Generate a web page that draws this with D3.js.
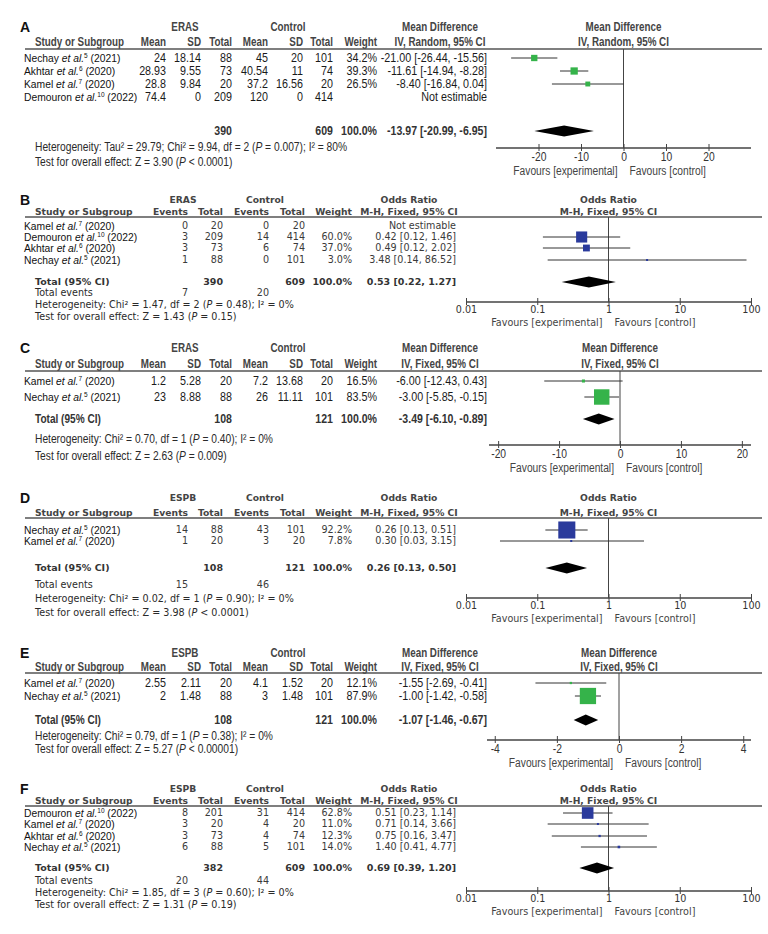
<!DOCTYPE html>
<html lang="en">
<head>
<meta charset="UTF-8">
<title>Forest plots A-F</title>
<style>
  body { margin: 0; background: #fff; }
  text { white-space: pre; }
</style>
</head>
<body>
<svg id="svg" width="768" height="934"></svg>
<script src="https://d3js.org/d3.v7.min.js"></script>
<script>
// ---------- A : length of stay (mean difference, random) ----------
const aAuthor = ['Nechay', 'Akhtar', 'Kamel', 'Demouron']
const aRef = ['5', '6', '7', '10']
const aYear = ['2021', '2020', '2020', '2022']
const aExpMean = [24, 28.93, 28.8, 74.4]
const aExpSD = [18.14, 9.55, 9.84, 0]
const aExpN = [88, 73, 20, 209]
const aCtlMean = [45, 40.54, 37.2, 120]
const aCtlSD = [20, 11, 16.56, 0]
const aCtlN = [101, 74, 20, 414]
const aWeight = [34.2, 39.3, 26.5, null]
const aEst = [-21.00, -11.61, -8.40, null]
const aLo = [-26.44, -14.94, -16.84, null]
const aHi = [-15.56, -8.28, 0.04, null]
const aTotal = { exp: 390, ctl: 609, est: -13.97, lo: -20.99, hi: -6.95 }
const aHet = 'Heterogeneity: Tau² = 29.79; Chi² = 9.94, df = 2 (P = 0.007); I² = 80%'
const aTest = 'Test for overall effect: Z = 3.90 (P < 0.0001)'
const aTicks = [-20, -10, 0, 10, 20]

// ---------- B : odds ratio ----------
const bAuthor = ['Kamel', 'Demouron', 'Akhtar', 'Nechay']
const bRef = ['7', '10', '6', '5']
const bYear = ['2020', '2022', '2020', '2021']
const bExpEv = [0, 3, 3, 1]
const bExpN = [20, 209, 73, 88]
const bCtlEv = [0, 14, 6, 0]
const bCtlN = [20, 414, 74, 101]
const bWeight = [null, 60.0, 37.0, 3.0]
const bEst = [null, 0.42, 0.49, 3.48]
const bLo = [null, 0.12, 0.12, 0.14]
const bHi = [null, 1.46, 2.02, 86.52]
const bTotal = { exp: 390, ctl: 609, est: 0.53, lo: 0.22, hi: 1.27, expEv: 7, ctlEv: 20 }
const bHet = 'Heterogeneity: Chi² = 1.47, df = 2 (P = 0.48); I² = 0%'
const bTest = 'Test for overall effect: Z = 1.43 (P = 0.15)'

// ---------- C : mean difference, fixed ----------
const cAuthor = ['Kamel', 'Nechay']
const cRef = ['7', '5']
const cYear = ['2020', '2021']
const cExpMean = [1.2, 23]
const cExpSD = [5.28, 8.88]
const cExpN = [20, 88]
const cCtlMean = [7.2, 26]
const cCtlSD = [13.68, 11.11]
const cCtlN = [20, 101]
const cWeight = [16.5, 83.5]
const cEst = [-6.00, -3.00]
const cLo = [-12.43, -5.85]
const cHi = [0.43, -0.15]
const cTotal = { exp: 108, ctl: 121, est: -3.49, lo: -6.10, hi: -0.89 }
const cHet = 'Heterogeneity: Chi² = 0.70, df = 1 (P = 0.40); I² = 0%'
const cTest = 'Test for overall effect: Z = 2.63 (P = 0.009)'
const cTicks = [-20, -10, 0, 10, 20]

// ---------- D : odds ratio ----------
const dAuthor = ['Nechay', 'Kamel']
const dRef = ['5', '7']
const dYear = ['2021', '2020']
const dExpEv = [14, 1]
const dExpN = [88, 20]
const dCtlEv = [43, 3]
const dCtlN = [101, 20]
const dWeight = [92.2, 7.8]
const dEst = [0.26, 0.30]
const dLo = [0.13, 0.03]
const dHi = [0.51, 3.15]
const dTotal = { exp: 108, ctl: 121, est: 0.26, lo: 0.13, hi: 0.50, expEv: 15, ctlEv: 46 }
const dHet = 'Heterogeneity: Chi² = 0.02, df = 1 (P = 0.90); I² = 0%'
const dTest = 'Test for overall effect: Z = 3.98 (P < 0.0001)'

// ---------- E : mean difference, fixed ----------
const eAuthor = ['Kamel', 'Nechay']
const eRef = ['7', '5']
const eYear = ['2020', '2021']
const eExpMean = [2.55, 2]
const eExpSD = [2.11, 1.48]
const eExpN = [20, 88]
const eCtlMean = [4.1, 3]
const eCtlSD = [1.52, 1.48]
const eCtlN = [20, 101]
const eWeight = [12.1, 87.9]
const eEst = [-1.55, -1.00]
const eLo = [-2.69, -1.42]
const eHi = [-0.41, -0.58]
const eTotal = { exp: 108, ctl: 121, est: -1.07, lo: -1.46, hi: -0.67 }
const eHet = 'Heterogeneity: Chi² = 0.79, df = 1 (P = 0.38); I² = 0%'
const eTest = 'Test for overall effect: Z = 5.27 (P < 0.00001)'
const eTicks = [-4, -2, 0, 2, 4]

// ---------- F : odds ratio ----------
const fAuthor = ['Demouron', 'Kamel', 'Akhtar', 'Nechay']
const fRef = ['10', '7', '6', '5']
const fYear = ['2022', '2020', '2020', '2021']
const fExpEv = [8, 3, 3, 6]
const fExpN = [201, 20, 73, 88]
const fCtlEv = [31, 4, 4, 5]
const fCtlN = [414, 20, 74, 101]
const fWeight = [62.8, 11.0, 12.3, 14.0]
const fEst = [0.51, 0.71, 0.75, 1.40]
const fLo = [0.23, 0.14, 0.16, 0.41]
const fHi = [1.14, 3.66, 3.47, 4.77]
const fTotal = { exp: 382, ctl: 609, est: 0.69, lo: 0.39, hi: 1.20, expEv: 20, ctlEv: 44 }
const fHet = 'Heterogeneity: Chi² = 1.85, df = 3 (P = 0.60); I² = 0%'
const fTest = 'Test for overall effect: Z = 1.31 (P = 0.19)'

const orTicks = [0.01, 0.1, 1, 10, 100]

// panel setup (layout lives here, not in the data arrays)
const panels = [
  { letter: 'A', kind: 'md', group: 'ERAS', method: 'IV, Random, 95% CI', totalLabel: '',
    authors: aAuthor, refs: aRef, years: aYear,
    cols: [aExpMean, aExpSD, aExpN, aCtlMean, aCtlSD, aCtlN],
    weight: aWeight, est: aEst, lo: aLo, hi: aHi, total: aTotal, het: aHet, test: aTest, ticks: aTicks,
    domain: [-30, 30], range: [496, 751],
    y: { h1: 27, h2: 42, sep: 49, rows: [58, 71, 84, 97], total: 131, het: 147, test: 162, axis: 148 } },
  { letter: 'B', kind: 'or', group: 'ERAS', method: 'M-H, Fixed, 95% CI', totalLabel: 'Total (95% CI)',
    authors: bAuthor, refs: bRef, years: bYear,
    cols: [bExpEv, bExpN, bCtlEv, bCtlN],
    weight: bWeight, est: bEst, lo: bLo, hi: bHi, total: bTotal, het: bHet, test: bTest, ticks: orTicks,
    domain: [0.01, 100], range: [466, 751],
    y: { h1: 200, h2: 212, sep: 217, rows: [226, 237, 248, 260], total: 282, events: 293, het: 305, test: 317, axis: 302 } },
  { letter: 'C', kind: 'md', group: 'ERAS', method: 'IV, Fixed, 95% CI', totalLabel: 'Total (95% CI)',
    authors: cAuthor, refs: cRef, years: cYear,
    cols: [cExpMean, cExpSD, cExpN, cCtlMean, cCtlSD, cCtlN],
    weight: cWeight, est: cEst, lo: cLo, hi: cHi, total: cTotal, het: cHet, test: cTest, ticks: cTicks,
    domain: [-21.5, 21.5], range: [489, 751],
    y: { h1: 348, h2: 364, sep: 371, rows: [381, 397], total: 419, het: 439, test: 456, axis: 445 } },
  { letter: 'D', kind: 'or', group: 'ESPB', method: 'M-H, Fixed, 95% CI', totalLabel: 'Total (95% CI)',
    authors: dAuthor, refs: dRef, years: dYear,
    cols: [dExpEv, dExpN, dCtlEv, dCtlN],
    weight: dWeight, est: dEst, lo: dLo, hi: dHi, total: dTotal, het: dHet, test: dTest, ticks: orTicks,
    domain: [0.01, 100], range: [466, 751],
    y: { h1: 498, h2: 513, sep: 518, rows: [530, 541], total: 568, events: 585, het: 599, test: 613, axis: 598 } },
  { letter: 'E', kind: 'md', group: 'ESPB', method: 'IV, Fixed, 95% CI', totalLabel: 'Total (95% CI)',
    authors: eAuthor, refs: eRef, years: eYear,
    cols: [eExpMean, eExpSD, eExpN, eCtlMean, eCtlSD, eCtlN],
    weight: eWeight, est: eEst, lo: eLo, hi: eHi, total: eTotal, het: eHet, test: eTest, ticks: eTicks,
    domain: [-4.25, 4.25], range: [487, 751],
    y: { h1: 653, h2: 667, sep: 673, rows: [683, 696], total: 720, het: 736, test: 749, axis: 740 } },
  { letter: 'F', kind: 'or', group: 'ESPB', method: 'M-H, Fixed, 95% CI', totalLabel: 'Total (95% CI)',
    authors: fAuthor, refs: fRef, years: fYear,
    cols: [fExpEv, fExpN, fCtlEv, fCtlN],
    weight: fWeight, est: fEst, lo: fLo, hi: fHi, total: fTotal, het: fHet, test: fTest, ticks: orTicks,
    domain: [0.01, 100], range: [466, 751],
    y: { h1: 789, h2: 801, sep: 806, rows: [813, 824, 836, 847], total: 868, events: 881, het: 893, test: 905, axis: 891 } }
]

const svg = d3.select('#svg')
const nameFont = "'Liberation Sans', Arial, sans-serif"
const sideScale = d3.scaleLinear().domain([0, 100]).range([0, 18.5])
const ciText = (e, l, h) => `${e.toFixed(2)} [${l.toFixed(2)}, ${h.toFixed(2)}]`
// mean-difference panels use a narrow face; squeeze Liberation Sans to mimic it
const NARROW = 0.82
const NARROW_DATA = 0.86

function drawPanel(p) {
  const g = svg.append('g')
  const md = p.kind === 'md'
  const numFont = md ? nameFont : "'DejaVu Sans', Verdana, sans-serif"
  const sx = md ? NARROW : 1
  const sxData = md ? NARROW_DATA : 1
  const numSize = md ? 12.5 : 9.6
  const headSize = md ? 12 : 9.2
  const dataFill = md ? '#1a1a1a' : '#3a3a3a'
  const colX = md ? [166, 201, 232, 268, 303, 333] : [188, 223, 269, 305]
  const colHeads = md ? ['Mean', 'SD', 'Total', 'Mean', 'SD', 'Total'] : ['Events', 'Total', 'Events', 'Total']
  const totCols = md ? [2, 5] : [1, 3]
  const wX = md ? 377 : 352
  const ciX = md ? 487 : 456
  const effX = md ? 440 : 409
  const grpX = md ? [185, 288] : [183, 265]
  const effName = md ? 'Mean Difference' : 'Odds Ratio'
  const Y = p.y

  const txt = (x, y, s, o = {}) => {
    const k = o.squeeze != null ? o.squeeze : sx
    const t = g.append('text')
      .attr('x', x / k).attr('y', y).attr('dy', '0.35em')
      .attr('text-anchor', o.anchor || 'end')
      .attr('font-family', o.family || numFont)
      .attr('font-size', o.size || numSize)
      .attr('font-weight', o.bold ? 'bold' : null)
      .attr('fill', o.fill || '#2a2a2a')
      .text(s)
    if (k !== 1) t.attr('transform', `scale(${k},1)`)
    return t
  }
  const cell = (x, y, s) => txt(x, y, s, { squeeze: sxData, fill: dataFill })
  const head = (x, y, s, anchor) => txt(x, y, s, { anchor: anchor, size: headSize, bold: true, fill: '#444' })

  // panel letter
  txt(20, Y.h1, p.letter, { anchor: 'start', family: nameFont, size: 14, bold: true, fill: '#111', squeeze: 1 })

  // header row 1
  head(grpX[0], Y.h1, p.group, 'middle')
  head(grpX[1], Y.h1, 'Control', 'middle')
  head(effX, Y.h1, effName, 'middle')
  // header row 2
  head(35, Y.h2, 'Study or Subgroup', 'start')
  colHeads.forEach((h, i) => head(colX[i], Y.h2, h, 'end'))
  head(wX, Y.h2, 'Weight', 'end')
  head(effX, Y.h2, p.method, 'middle')

  // scale for the plot side
  const x = md ? d3.scaleLinear().domain(p.domain).range(p.range)
               : d3.scaleLog().domain(p.domain).range(p.range)
  const nullX = x(md ? 0 : 1)
  const plotMid = (p.range[0] + p.range[1]) / 2
  head(plotMid, Y.h1, effName, 'middle')
  head(plotMid, Y.h2, p.method, 'middle')

  // separator line under headers
  g.append('line').attr('x1', 25).attr('x2', 762).attr('y1', Y.sep).attr('y2', Y.sep)
    .attr('stroke', '#555').attr('stroke-width', 1.4)

  // study rows
  p.authors.forEach((a, i) => {
    const y = Y.rows[i]
    const t = g.append('text').attr('x', 24).attr('y', y).attr('dy', '0.35em')
      .attr('font-family', nameFont).attr('font-size', 10.3).attr('fill', '#111')
    t.append('tspan').text(a + ' ')
    t.append('tspan').attr('font-style', 'italic').text('et al.')
    t.append('tspan').attr('font-size', 6.5).attr('dy', -3.5).text(p.refs[i])
    t.append('tspan').attr('dy', 3.5).text(' (' + p.years[i] + ')')

    p.cols.forEach((col, j) => cell(colX[j], y, String(col[i])))
    if (p.weight[i] != null) {
      cell(wX, y, p.weight[i].toFixed(1) + '%')
      cell(ciX, y, ciText(p.est[i], p.lo[i], p.hi[i]))
    } else {
      cell(ciX, y, 'Not estimable')
    }
  })

  // total row
  const T = p.total
  const tot = { bold: true, size: headSize + 0.3, fill: '#333' }
  const totD = Object.assign({ squeeze: sxData }, tot)
  if (p.totalLabel) txt(35, Y.total, p.totalLabel, Object.assign({ anchor: 'start' }, tot))
  txt(colX[totCols[0]], Y.total, String(T.exp), totD)
  txt(colX[totCols[1]], Y.total, String(T.ctl), totD)
  txt(wX, Y.total, '100.0%', totD)
  txt(ciX, Y.total, ciText(T.est, T.lo, T.hi), totD)

  if (Y.events != null) {
    txt(35, Y.events, 'Total events', { anchor: 'start' })
    cell(colX[0], Y.events, String(T.expEv))
    cell(colX[2], Y.events, String(T.ctlEv))
  }

  // heterogeneity / overall effect, with italic P
  const rich = (y, s) => {
    const t = txt(35, y, '', { anchor: 'start' })
    s.split(/(\bP\b)/).forEach(part => {
      const ts = t.append('tspan').text(part)
      if (part === 'P') ts.attr('font-style', 'italic')
    })
  }
  rich(Y.het, p.het)
  rich(Y.test, p.test)

  // null line
  g.append('line').attr('x1', nullX).attr('x2', nullX).attr('y1', Y.sep).attr('y2', Y.axis)
    .attr('stroke', '#444').attr('stroke-width', 1)

  // confidence intervals and squares
  const marks = p.est.map((e, i) => ({ e, lo: p.lo[i], hi: p.hi[i], w: p.weight[i], y: Y.rows[i] }))
    .filter(d => d.e != null)
  const side = d => Math.max(2, sideScale(d.w))
  g.selectAll('.ci').data(marks).enter().append('line').attr('class', 'ci')
    .attr('x1', d => x(d.lo)).attr('x2', d => x(d.hi))
    .attr('y1', d => d.y).attr('y2', d => d.y)
    .attr('stroke', '#333').attr('stroke-width', 1)
  g.selectAll('.sq').data(marks).enter().append('rect').attr('class', 'sq')
    .attr('x', d => x(d.e) - side(d) / 2)
    .attr('y', d => d.y - side(d) / 2)
    .attr('width', side)
    .attr('height', side)
    .attr('fill', md ? '#35b34a' : '#2a3a9c')

  // pooled diamond
  const dh = 5.5
  g.append('polygon')
    .attr('points', [[x(T.lo), Y.total], [x(T.est), Y.total - dh], [x(T.hi), Y.total], [x(T.est), Y.total + dh]]
      .map(q => q.join(',')).join(' '))
    .attr('fill', '#000')

  // axis
  const axis = d3.axisBottom(x).tickValues(p.ticks).tickSize(4).tickPadding(0).tickFormat(d => String(d))
  const ag = g.append('g').attr('transform', `translate(0,${Y.axis})`).call(axis)
  ag.select('.domain').remove()
  ag.selectAll('.tick line').attr('y1', -4).attr('y2', 3).attr('stroke', '#444')
  ag.selectAll('.tick text').attr('font-family', numFont).attr('font-size', md ? 12 : numSize).attr('fill', '#333')
    .attr('transform', sx !== 1 ? `scale(${sxData},1)` : null)
  g.append('line').attr('x1', p.range[0]).attr('x2', p.range[1]).attr('y1', Y.axis).attr('y2', Y.axis)
    .attr('stroke', '#444').attr('stroke-width', 1.3)

  // favours labels
  const favY = Y.axis + (md ? 23 : 21)
  txt(nullX - 6, favY, 'Favours [experimental]', { anchor: 'end', fill: '#444' })
  txt(nullX + 6, favY, 'Favours [control]', { anchor: 'start', fill: '#444' })
}

panels.forEach(drawPanel)
</script>
</body>
</html>
